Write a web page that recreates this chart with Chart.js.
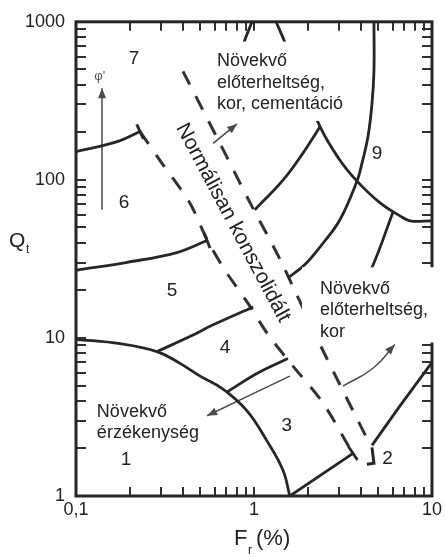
<!DOCTYPE html>
<html>
<head>
<meta charset="utf-8">
<script src="https://cdn.jsdelivr.net/npm/chart.js@4"></script>
<style>
  html, body { margin: 0; padding: 0; background: #fff; }
  #wrap { width: 445px; height: 557px; }
</style>
</head>
<body>
<div id="wrap"><canvas id="c" width="445" height="557"></canvas></div>
<script>
// Soil behaviour type chart: normalised cone resistance Qt against friction ratio Fr (%)

const xTicks = [0.1, 1, 10];
const xTickLabels = ['0,1', '1', '10'];
const yTicks = [1, 10, 100, 1000];
const yTickLabels = ['1', '10', '100', '1000'];

// Zone boundaries, as (Fr %, Qt) pairs
const zone1Fr = [0.1, 0.177, 0.285, 0.384, 0.498, 0.670, 0.914, 1.18, 1.455, 1.59];
const zone1Qt = [9.8, 9.2, 8.2, 6.9, 5.73, 4.75, 3.46, 2.24, 1.455, 1];

const zone45Fr = [0.285, 0.436, 0.589, 0.99];
const zone45Qt = [8.2, 10.2, 12.1, 15.7];

const zone34Fr = [0.705, 1.05, 1.55];
const zone34Qt = [4.55, 6.0, 7.4];

const zone23Fr = [1.59, 3.6];
const zone23Qt = [1, 1.86];

const zone2HookFr = [4.6, 4.72, 4.31];
const zone2HookQt = [2.03, 1.61, 1.59];

const zone29Fr = [4.6, 6.61, 10];
const zone29Qt = [2.09, 3.72, 7.0];

const zone56Fr = [0.1, 0.194, 0.369, 0.545];
const zone56Qt = [26.8, 30.1, 34.7, 41.3];

const zone67Fr = [0.1, 0.136, 0.177, 0.229];
const zone67Qt = [151, 163, 177, 202];

const zone9Fr = [4.72, 4.72, 4.6, 4.37, 4.04, 3.79, 3.04, 2.41, 1.94, 1.55];
const zone9Qt = [1000, 486, 302, 188, 127, 98.2, 55.9, 39, 29.2, 23.9];

const zone8LeftFr = [1.01, 1.455, 1.88, 2.35];
const zone8LeftQt = [64.6, 99.5, 147, 217];

const zone8RightFr = [1.33, 1.455, 2.35, 3.04, 3.79, 5.11, 6.61, 7.52, 10];
const zone8RightQt = [1000, 794, 217, 133, 98.2, 71.5, 59.2, 55.1, 55.1];

const zone8InnerFr = [6.04, 4.66, 3.69];
const zone8InnerQt = [62.7, 28.8, 16.9];

const zone78Fr = [0.975, 0.889, 0.813];
const zone78Qt = [1000, 771, 578];

// Normally consolidated band (dashed)
const ncLowerFr = [0.229, 0.296, 0.436, 0.545, 0.687, 0.914, 1.20, 1.66, 2.44, 3.5];
const ncLowerQt = [202, 133, 71.5, 41.9, 26.8, 16.9, 10.5, 6.61, 3.88, 1.95];

const ncUpperFr = [0.399, 0.644, 0.951, 1.40, 2.35, 4.37];
const ncUpperQt = [486, 170, 71.5, 31.4, 9.08, 2.24];

// Trend arrows
const phiArrowFr = [0.14, 0.14];
const phiArrowQt = [64.6, 380];

const ocrCementArrowFr = [0.589, 0.803];
const ocrCementArrowQt = [170, 226];

const sensitivityArrowFr = [1.59, 0.545];
const sensitivityArrowQt = [5.73, 3.22];

const ocrAgeArrowFr = [3.16, 4.66, 6.19];
const ocrAgeArrowQt = [4.96, 6.43, 9.08];

const pts = (fr, qt) => fr.map((f, i) => ({ x: f, y: qt[i] }));

const INK = '#262626';
const ARROW = '#4a4a4a';

function solid(fr, qt, extra) {
  return Object.assign({
    data: pts(fr, qt), showLine: true, pointRadius: 0, borderColor: INK,
    borderWidth: 2.8, tension: 0.4, fill: false, borderCapStyle: 'butt'
  }, extra || {});
}
function dashed(fr, qt) {
  return solid(fr, qt, { borderDash: [15, 13], borderWidth: 3, borderColor: '#333', tension: 0.3 });
}
function arrow(fr, qt) {
  return solid(fr, qt, { borderWidth: 1.5, borderColor: ARROW, arrow: true, tension: 0.5 });
}

const datasets = [
  solid(zone1Fr, zone1Qt),
  solid(zone45Fr, zone45Qt),
  solid(zone34Fr, zone34Qt),
  solid(zone23Fr, zone23Qt, { cap: true, tension: 0 }),
  solid(zone2HookFr, zone2HookQt, { tension: 0, borderWidth: 3 }),
  solid(zone29Fr, zone29Qt, { tension: 0.2 }),
  solid(zone56Fr, zone56Qt, { cap: true }),
  solid(zone67Fr, zone67Qt, { cap: true }),
  solid(zone9Fr, zone9Qt),
  solid(zone8LeftFr, zone8LeftQt),
  solid(zone8RightFr, zone8RightQt),
  solid(zone8InnerFr, zone8InnerQt),
  solid(zone78Fr, zone78Qt),
  dashed(ncLowerFr, ncLowerQt),
  dashed(ncUpperFr, ncUpperQt),
  arrow(phiArrowFr, phiArrowQt),
  arrow(ocrCementArrowFr, ocrCementArrowQt),
  arrow(sensitivityArrowFr, sensitivityArrowQt),
  arrow(ocrAgeArrowFr, ocrAgeArrowQt)
];

// White panels behind the annotation text blocks
const textPanels = [
  { fr: [0.573, 3.55], qt: [236, 750] },
  { fr: [1.86, 10.5], qt: [9.35, 28] }
];

const zoneLabels = [
  { text: '7', fr: 0.212, qt: 582 },
  { text: '6', fr: 0.186, qt: 71.5 },
  { text: '5', fr: 0.346, qt: 19.9 },
  { text: '4', fr: 0.687, qt: 8.64 },
  { text: '3', fr: 1.53, qt: 2.79 },
  { text: '2', fr: 5.63, qt: 1.72 },
  { text: '1', fr: 0.191, qt: 1.70 },
  { text: '9', fr: 4.91, qt: 147 }
];

const notes = [
  { lines: ['Növekvő', 'előterheltség,', 'kor, cementáció'], fr: 0.619, qt: 523 },
  { lines: ['Növekvő', 'előterheltség,', 'kor'], fr: 2.35, qt: 19.0 },
  { lines: ['Növekvő', 'érzékenység'], fr: 0.131, qt: 3.17 }
];

const bandLabel = { text: 'Normálisan konszolidált', fr: 0.762, qt: 53.5, angle: 62 };
const phiLabel = { text: "φ'", fr: 0.136, qt: 452 };

const FONT = '"Liberation Sans", Arial, Helvetica, sans-serif';

const decorations = {
  id: 'decorations',
  afterDatasetsDraw(chart) {
    const { ctx, chartArea: a, scales: { x, y } } = chart;
    const P = (f, q) => [x.getPixelForValue(f), y.getPixelForValue(q)];
    ctx.save();
    ctx.setLineDash([]);

    // end caps and arrow heads
    chart.data.datasets.forEach((ds, i) => {
      if (!ds.cap && !ds.arrow) return;
      const el = chart.getDatasetMeta(i).data;
      const p1 = el[el.length - 1], p0 = el[el.length - 2];
      const dx = p1.x - p0.x, dy = p1.y - p0.y, L = Math.hypot(dx, dy);
      const ux = dx / L, uy = dy / L;
      if (ds.cap) {
        ctx.strokeStyle = INK; ctx.lineWidth = 2.8; ctx.lineCap = 'butt';
        ctx.beginPath();
        ctx.moveTo(p1.x - uy * 8, p1.y + ux * 8);
        ctx.lineTo(p1.x + uy * 8, p1.y - ux * 8);
        ctx.stroke();
      }
      if (ds.arrow) {
        ctx.fillStyle = ARROW;
        const bx = p1.x - ux * 10, by = p1.y - uy * 10;
        ctx.beginPath();
        ctx.moveTo(p1.x, p1.y);
        ctx.lineTo(bx - uy * 4, by + ux * 4);
        ctx.lineTo(bx + uy * 4, by - ux * 4);
        ctx.closePath();
        ctx.fill();
      }
    });

    // inward minor ticks on all four sides
    ctx.strokeStyle = '#303030';
    ctx.lineWidth = 2;
    ctx.lineCap = 'butt';
    ctx.beginPath();
    for (let k = -1; k <= 0; k++) {
      for (let m = 1; m <= 9; m++) {
        const v = m * Math.pow(10, k);
        if (v <= 0.1 + 1e-9 || v >= 10 - 1e-9) continue;
        const tx = Math.round(x.getPixelForValue(v));
        ctx.moveTo(tx, a.bottom); ctx.lineTo(tx, a.bottom - 9);
        ctx.moveTo(tx, a.top); ctx.lineTo(tx, a.top + 9);
      }
    }
    for (let k = 0; k <= 2; k++) {
      for (let m = 1; m <= 9; m++) {
        const v = m * Math.pow(10, k);
        if (v <= 1 + 1e-9 || v >= 1000 - 1e-9) continue;
        const ty = Math.round(y.getPixelForValue(v));
        ctx.moveTo(a.left, ty); ctx.lineTo(a.left + 10, ty);
        ctx.moveTo(a.right, ty); ctx.lineTo(a.right - 10, ty);
      }
    }
    ctx.stroke();

    // frame
    ctx.strokeStyle = INK;
    ctx.lineWidth = 3;
    ctx.strokeRect(a.left, a.top, a.right - a.left, a.bottom - a.top);

    // white panels
    ctx.fillStyle = '#fff';
    textPanels.forEach(b => {
      const [x0, y0] = P(b.fr[0], b.qt[1]);
      const [x1, y1] = P(b.fr[1], b.qt[0]);
      ctx.fillRect(x0, y0, x1 - x0, y1 - y0);
    });

    ctx.fillStyle = '#222';
    // zone numbers
    ctx.font = '19px ' + FONT;
    ctx.textAlign = 'center'; ctx.textBaseline = 'middle';
    zoneLabels.forEach(l => { const [px, py] = P(l.fr, l.qt); ctx.fillText(l.text, px, py); });

    // text blocks
    ctx.font = '18px ' + FONT;
    ctx.textAlign = 'left'; ctx.textBaseline = 'alphabetic';
    notes.forEach(n => {
      const [px, py] = P(n.fr, n.qt);
      n.lines.forEach((t, j) => ctx.fillText(t, px, py + j * 21.5));
    });

    // rotated band label
    {
      const [px, py] = P(bandLabel.fr, bandLabel.qt);
      ctx.save();
      ctx.translate(px, py);
      ctx.rotate(bandLabel.angle * Math.PI / 180);
      ctx.font = '21px ' + FONT;
      ctx.textAlign = 'center'; ctx.textBaseline = 'middle';
      ctx.fillText(bandLabel.text, 0, 0);
      ctx.restore();
    }

    // friction angle symbol
    {
      const [px, py] = P(phiLabel.fr, phiLabel.qt);
      ctx.fillStyle = '#555';
      ctx.font = '13px ' + FONT;
      ctx.textAlign = 'center'; ctx.textBaseline = 'middle';
      ctx.fillText(phiLabel.text, px, py);
    }

    // axis titles with subscripts
    ctx.fillStyle = '#222';
    ctx.textAlign = 'left'; ctx.textBaseline = 'alphabetic';
    ctx.font = '21px ' + FONT;
    ctx.fillText('Q', 9, 247);
    ctx.font = '12px ' + FONT;
    ctx.fillText('t', 26, 253);
    ctx.font = '22px ' + FONT;
    ctx.fillText('F', 234, 545);
    ctx.font = '12px ' + FONT;
    ctx.fillText('r', 248, 554);
    ctx.font = '22px ' + FONT;
    ctx.fillText('(%)', 256, 545);

    ctx.restore();
  }
};

new Chart(document.getElementById('c'), {
  type: 'scatter',
  data: { datasets },
  options: {
    responsive: false,
    devicePixelRatio: 1,
    animation: false,
    layout: { padding: { left: 0, top: 17, right: 13, bottom: 0 } },
    plugins: { legend: { display: false }, tooltip: { enabled: false } },
    scales: {
      x: {
        type: 'logarithmic', min: 0.1, max: 10,
        grid: { display: false, drawTicks: false },
        border: { display: false },
        afterBuildTicks: s => { s.ticks = xTicks.map(v => ({ value: v })); },
        afterFit: s => { s.height = 61; },
        ticks: {
          autoSkip: false, maxRotation: 0, padding: 3, color: '#222',
          font: { size: 18, family: FONT },
          callback: v => { const i = xTicks.indexOf(v); return i >= 0 ? xTickLabels[i] : ''; }
        }
      },
      y: {
        type: 'logarithmic', min: 1, max: 1000,
        grid: { display: false, drawTicks: false },
        border: { display: false },
        afterBuildTicks: s => { s.ticks = yTicks.map(v => ({ value: v })); },
        afterFit: s => { s.width = 76; },
        ticks: {
          autoSkip: false, padding: 11, color: '#222',
          font: { size: 18, family: FONT },
          callback: v => { const i = yTicks.indexOf(v); return i >= 0 ? yTickLabels[i] : ''; }
        }
      }
    }
  },
  plugins: [decorations]
});
</script>
</body>
</html>
